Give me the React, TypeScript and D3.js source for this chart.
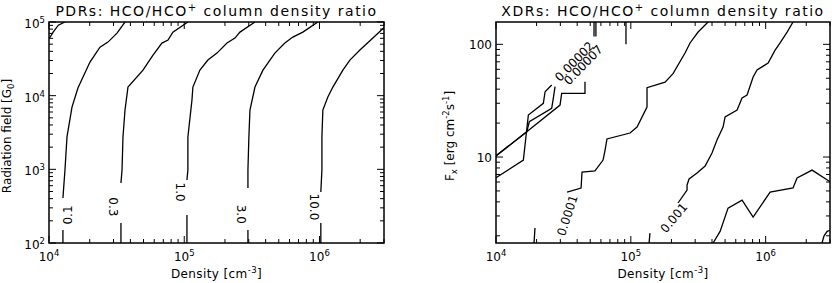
import React from 'react';
import * as d3 from 'd3';

// all contour points are [log10 density, log10 y-value], split where IDL left a gap for the label

// PDR panel (y = radiation field in G0)
const pdr003 = [[[4.002, 4.777], [4.032, 4.866], [4.069, 4.957], [4.118, 5.0]]];
const pdr01 = [
  [[4.103, 2.0], [4.103, 2.176]],
  [[4.103, 2.611], [4.118, 2.99], [4.133, 3.44], [4.17, 3.845], [4.214, 4.103], [4.303, 4.456], [4.377, 4.659], [4.436, 4.727], [4.503, 4.849], [4.562, 5.0]],
];
const pdr03 = [
  [[4.532, 2.0], [4.532, 2.271]],
  [[4.532, 2.814], [4.54, 2.99], [4.547, 3.44], [4.562, 3.805], [4.584, 4.117], [4.695, 4.347], [4.769, 4.551], [4.835, 4.714], [4.88, 4.754], [4.916, 4.863], [5.027, 5.0]],
];
const pdr10 = [
  [[5.02, 2.0], [5.02, 2.38]],
  [[5.02, 2.855], [5.027, 2.99], [5.027, 3.44], [5.057, 3.94], [5.064, 4.117], [5.116, 4.347], [5.175, 4.483], [5.242, 4.578], [5.316, 4.714], [5.375, 4.782], [5.412, 4.863], [5.523, 5.0]],
];
const pdr30 = [
  [[5.471, 2.0], [5.471, 2.176]],
  [[5.471, 2.746], [5.471, 2.99], [5.478, 3.44], [5.486, 3.805], [5.523, 4.117], [5.582, 4.347], [5.67, 4.578], [5.744, 4.714], [5.803, 4.795], [5.877, 4.863], [5.988, 5.0]],
];
const pdr100 = [
  [[6.01, 2.0], [6.01, 2.271]],
  [[6.01, 2.692], [6.018, 2.99], [6.018, 3.44], [6.025, 3.805], [6.062, 3.981], [6.099, 4.117], [6.173, 4.347], [6.225, 4.483], [6.299, 4.619], [6.395, 4.782], [6.48, 4.93]],
];
const pdrContours = [pdr003, pdr01, pdr03, pdr10, pdr30, pdr100];
const pdrLabelText = ['0.1', '0.3', '1.0', '3.0', '10.0'];
const pdrLabelN = [4.144, 4.473, 4.968, 5.419, 5.959];
const pdrLabelG = [2.38, 2.49, 2.69, 2.39, 2.49];
const pdrLabelAngle = [-90, 90, 90, 90, 90];

// XDR panel (y = Fx in erg cm^-2 s^-1)
const xdrLow1 = [
  [[3.993, 0.811], [4.203, 0.973], [4.24, 1.373], [4.351, 1.476], [4.364, 1.579], [4.413, 1.639]],
  [[4.727, 2.07], [4.727, 2.198]],
];
const xdrLow2 = [
  [[3.993, 1.003], [4.228, 1.224], [4.247, 1.313], [4.413, 1.432], [4.425, 1.521], [4.438, 1.624]],
  [[4.741, 2.07], [4.741, 2.198]],
];
const xdrLow3 = [
  [[3.993, 1.003], [4.228, 1.224], [4.475, 1.461], [4.487, 1.565], [4.66, 1.565], [4.66, 1.668]],
  [[4.964, 2.0], [4.964, 2.198]],
];
const xdr0001 = [
  [[4.282, 0.237], [4.289, 0.37]],
  [[4.527, 0.689], [4.631, 0.725], [4.638, 0.867], [4.734, 0.876], [4.794, 0.973], [4.809, 1.062], [4.823, 1.16], [4.994, 1.213], [5.046, 1.266], [5.12, 1.444], [5.12, 1.615], [5.254, 1.665], [5.313, 1.74], [5.402, 1.923], [5.439, 2.012], [5.499, 2.109], [5.573, 2.198]],
];
const xdr001 = [
  [[5.135, 0.237], [5.142, 0.325]],
  [[5.35, 0.592], [5.417, 0.707], [5.417, 0.752], [5.432, 0.805], [5.491, 0.858], [5.551, 0.92], [5.602, 1.035], [5.639, 1.151], [5.684, 1.266], [5.699, 1.355], [5.788, 1.417], [5.825, 1.524], [5.862, 1.55], [5.907, 1.71], [5.936, 1.772], [6.018, 1.834], [6.07, 1.949], [6.107, 2.012], [6.159, 2.109], [6.203, 2.198]],
];
const xdrHigh1 = [[[5.61, 0.237], [5.662, 0.34], [5.721, 0.547], [5.825, 0.618], [5.907, 0.467], [6.033, 0.689], [6.203, 0.725], [6.233, 0.814], [6.344, 0.884], [6.478, 0.78]]];
const xdrHigh2 = [[[6.418, 0.237], [6.433, 0.3], [6.456, 0.34], [6.478, 0.35]]];
const xdrContours = [xdrLow1, xdrLow2, xdrLow3, xdr0001, xdr001, xdrHigh1, xdrHigh2];
const xdrLabelText = ['0.00002', '0.00007', '0.0001', '0.001'];
const xdrLabelN = [4.582, 4.648, 4.53, 5.32];
const xdrLabelF = [1.846, 1.816, 0.481, 0.459];
const xdrLabelAngle = [-46, -46, -71.6, -50];

// axis ranges
const densityDomain = [1e4, 3e6];
const pdrFieldDomain = [1e2, 1e5];
const xdrFluxDomain = [1.726, 157.8];

const FONT = '"DejaVu Sans", sans-serif';

type PanelProps = {
  id: string;
  left: number;
  right: number;
  yDomain: number[];
  contours: number[][][][];
  labelText: string[];
  labelN: number[];
  labelY: number[];
  labelAngle: number[];
  title: React.ReactNode;
  yTitle: React.ReactNode;
  yTitleX: number;
  yTickLabel: (t: number) => React.ReactNode;
  yLabelOffset: number;
};

const top = 22;
const bottom = 243;

const isPow10 = (t: number) => Math.abs(Math.log10(t) - Math.round(Math.log10(t))) < 1e-6;

const Pow = ({ e }: { e: number }) => (
  <>
    10<tspan dy={-5} fontSize={8.5}>{e}</tspan>
  </>
);

function Panel(p: PanelProps) {
  const x = d3.scaleLog().domain(densityDomain).range([p.left, p.right]);
  const y = d3.scaleLog().domain(p.yDomain).range([bottom, top]);
  const line = d3.line<number[]>().x(d => x(10 ** d[0])).y(d => y(10 ** d[1]));
  const xt = x.ticks();
  const yt = y.ticks();
  const cx = (p.left + p.right) / 2;

  return (
    <g>
      <defs>
        <clipPath id={p.id}>
          <rect x={p.left} y={top} width={p.right - p.left} height={bottom - top} />
        </clipPath>
      </defs>

      {/* contours */}
      <g clipPath={`url(#${p.id})`} fill="none" stroke="#000" strokeWidth={1.3}>
        {p.contours.map((c, i) => c.map((seg, j) => <path key={`${i}-${j}`} d={line(seg) ?? ''} />))}
      </g>

      {/* contour labels */}
      {p.labelText.map((t, i) => (
        <text
          key={t + i}
          transform={`translate(${x(10 ** p.labelN[i])},${y(10 ** p.labelY[i])}) rotate(${p.labelAngle[i]})`}
          textAnchor="middle"
          dominantBaseline="central"
          fontSize={12}
        >
          {t}
        </text>
      ))}

      {/* box + ticks, IDL style */}
      <rect x={p.left} y={top} width={p.right - p.left} height={bottom - top} fill="none" stroke="#000" strokeWidth={1.5} />
      {xt.map(t => {
        const len = isPow10(t) ? 7 : 4;
        return (
          <g key={'x' + t} stroke="#000" strokeWidth={1}>
            <line x1={x(t)} x2={x(t)} y1={bottom} y2={bottom - len} />
            <line x1={x(t)} x2={x(t)} y1={top} y2={top + len} />
          </g>
        );
      })}
      {yt.map(t => {
        const len = isPow10(t) ? 7 : 4;
        return (
          <g key={'y' + t} stroke="#000" strokeWidth={1}>
            <line x1={p.left} x2={p.left + len} y1={y(t)} y2={y(t)} />
            <line x1={p.right} x2={p.right - len} y1={y(t)} y2={y(t)} />
          </g>
        );
      })}

      {/* tick labels */}
      {xt.filter(isPow10).map(t => (
        <text key={'xl' + t} x={x(t)} y={261} textAnchor="middle" fontSize={12}>
          <Pow e={Math.round(Math.log10(t))} />
        </text>
      ))}
      {yt.filter(isPow10).map(t => (
        <text key={'yl' + t} x={p.left - 4} y={y(t) + p.yLabelOffset} textAnchor="end" fontSize={12}>
          {p.yTickLabel(t)}
        </text>
      ))}

      {/* titles */}
      <text x={cx} y={16} textAnchor="middle" fontSize={14} letterSpacing={1.5}>
        {p.title}
      </text>
      <text x={cx} y={278} textAnchor="middle" fontSize={12} letterSpacing={0.4}>
        Density [cm<tspan dy={-5} fontSize={8.5}>-3</tspan>
        <tspan dy={5}>]</tspan>
      </text>
      <text transform={`translate(${p.yTitleX},136) rotate(-90)`} textAnchor="middle" fontSize={12}>
        {p.yTitle}
      </text>
    </g>
  );
}

export default function App() {
  return (
    <svg
      width={832}
      height={283}
      style={{ position: 'absolute', left: 0, top: 0, background: '#fff' }}
      fontFamily={FONT}
    >
      <Panel
        id="pdr"
        left={49}
        right={384}
        yDomain={pdrFieldDomain}
        contours={pdrContours}
        labelText={pdrLabelText}
        labelN={pdrLabelN}
        labelY={pdrLabelG}
        labelAngle={pdrLabelAngle}
        title={
          <>
            PDRs: HCO/HCO<tspan dy={-5} fontSize={10}>+</tspan>
            <tspan dy={5}> column density ratio</tspan>
          </>
        }
        yTitle={
          <>
            Radiation field [G<tspan dy={3} fontSize={8.5}>0</tspan>
            <tspan dy={-3}>]</tspan>
          </>
        }
        yTitleX={10.5}
        yTickLabel={t => <Pow e={Math.round(Math.log10(t))} />}
        yLabelOffset={6}
      />
      <Panel
        id="xdr"
        left={496}
        right={830}
        yDomain={xdrFluxDomain}
        contours={xdrContours}
        labelText={xdrLabelText}
        labelN={xdrLabelN}
        labelY={xdrLabelF}
        labelAngle={xdrLabelAngle}
        title={
          <>
            XDRs: HCO/HCO<tspan dy={-5} fontSize={10}>+</tspan>
            <tspan dy={5}> column density ratio</tspan>
          </>
        }
        yTitle={
          <>
            F<tspan dy={3} fontSize={8.5}>x</tspan>
            <tspan dy={-3}> [erg cm</tspan>
            <tspan dy={-5} fontSize={8.5}>-2</tspan>
            <tspan dy={5}>s</tspan>
            <tspan dy={-5} fontSize={8.5}>-1</tspan>
            <tspan dy={5}>]</tspan>
          </>
        }
        yTitleX={454}
        yTickLabel={t => String(Math.round(t))}
        yLabelOffset={4.5}
      />
    </svg>
  );
}
